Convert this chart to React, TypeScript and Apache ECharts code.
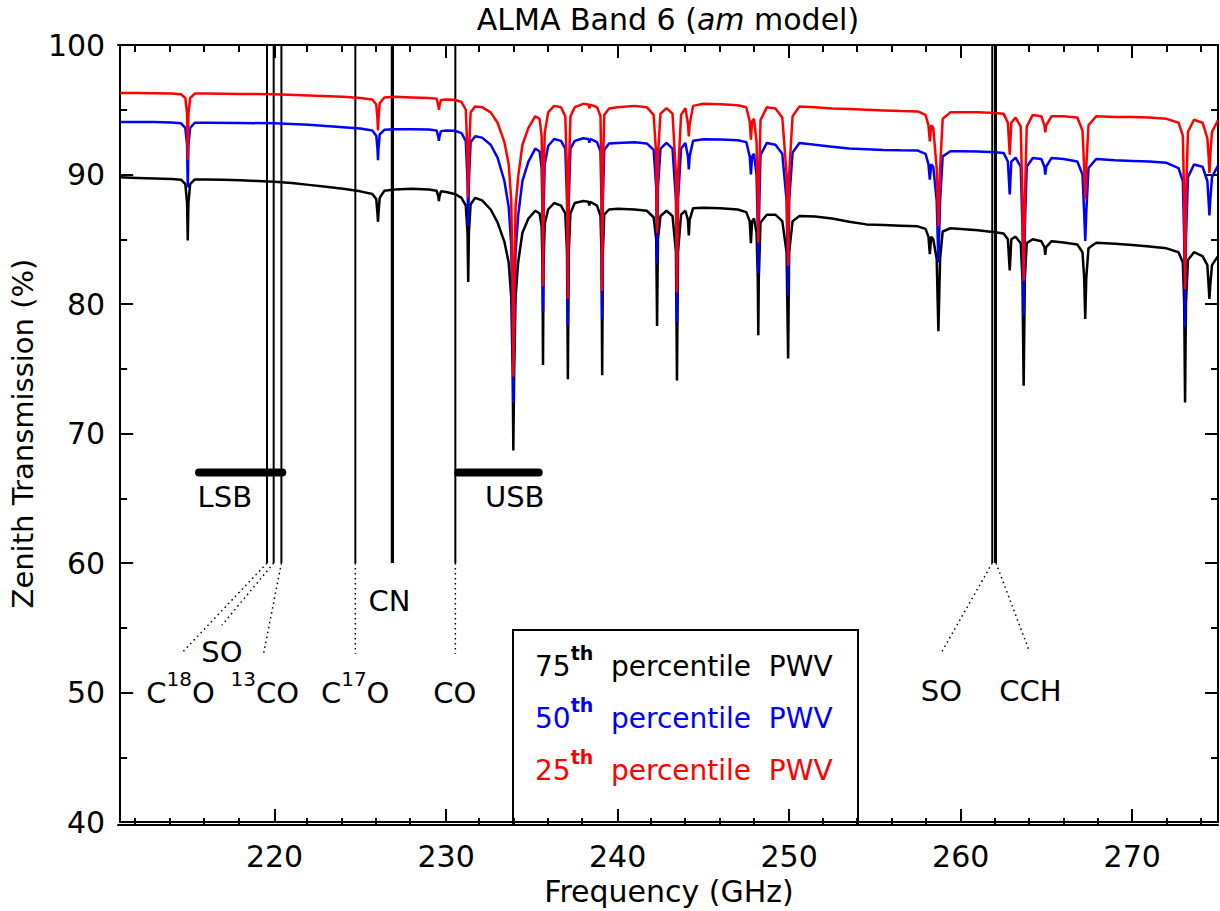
import React, { useEffect, useRef } from "react";
import * as echarts from "echarts";

const FONT = "'DejaVu Sans', sans-serif";

// Frequency (GHz), zenith transmission (%)
const black75: number[][] = [
  [211, 89.78], [212, 89.74], [213, 89.7], [214, 89.65], [214.55, 89.6], [214.8, 89.25], [214.9, 87.8], [214.94, 84.9], [214.98, 87.8], [215.08, 89.25], [215.35, 89.62],
  [216, 89.62], [217, 89.6], [218, 89.55], [219, 89.5], [220, 89.45], [221, 89.35], [222, 89.2], [223, 89.05], [224, 88.9], [225, 88.7], [225.7, 88.5],
  [225.93, 88.1], [226.0, 87.0], [226.03, 86.35], [226.06, 87.0], [226.13, 88.2], [226.4, 88.75], [227, 88.85], [228, 88.9], [229, 88.85], [229.45, 88.75],
  [229.55, 88.3], [229.58, 87.95], [229.61, 88.3], [229.7, 88.7], [230, 88.65], [230.5, 88.5], [230.9, 88.2], [231.15, 87.6], [231.25, 85.5], [231.29, 81.7],
  [231.33, 85.5], [231.43, 87.7], [231.7, 88.2], [232.1, 88.0], [232.6, 87.3], [233.0, 86.3], [233.4, 84.8], [233.65, 83.2], [233.8, 80.5], [233.88, 75],
  [233.92, 68.7], [233.97, 75], [234.05, 80.5], [234.2, 83.2], [234.45, 85.5], [234.8, 86.6], [235.2, 87.2], [235.45, 87.0], [235.57, 86.0], [235.62, 83],
  [235.65, 75.3], [235.68, 83], [235.75, 86.2], [235.95, 87.3], [236.3, 87.8], [236.7, 87.6], [236.95, 87.0], [237.05, 84], [237.1, 74.2], [237.15, 84],
  [237.25, 87.0], [237.5, 87.8], [238.0, 87.95], [238.3, 87.9], [238.35, 87.6], [238.4, 87.9], [238.8, 87.6], [239.0, 86.8], [239.06, 84], [239.1, 74.5],
  [239.14, 84], [239.22, 86.9], [239.5, 87.3], [240, 87.35], [241, 87.3], [241.7, 87.2], [242.1, 86.7], [242.25, 85], [242.3, 78.3], [242.35, 85],
  [242.5, 86.8], [242.85, 87.2], [243.2, 86.8], [243.4, 84], [243.46, 74.1], [243.52, 84], [243.7, 86.9], [243.95, 87.2], [244.1, 86.5], [244.15, 85.3],
  [244.2, 86.5], [244.4, 87.4], [245, 87.44], [246, 87.4], [247, 87.3], [247.5, 87.1], [247.7, 86.4], [247.77, 84.7], [247.84, 86.4], [247.95, 86.6],
  [248.1, 85.5], [248.17, 82], [248.2, 77.6], [248.23, 82], [248.33, 86.3], [248.7, 86.9], [249.2, 86.9], [249.6, 86.4], [249.85, 84], [249.94, 75.8],
  [250.0, 84], [250.2, 86.4], [250.6, 86.8], [251.5, 86.75], [252.5, 86.6], [253.5, 86.35], [254.5, 86.15], [255.5, 86.1], [256.5, 86.05], [257.5, 86.0],
  [257.95, 85.8], [258.12, 85.2], [258.2, 83.85], [258.28, 85.2], [258.4, 85.0], [258.6, 83.5], [258.7, 77.9], [258.8, 83.5], [258.95, 85.6], [259.4, 85.85],
  [260, 85.8], [261, 85.7], [262, 85.55], [262.5, 85.45], [262.75, 85.0], [262.86, 82.6], [262.95, 85.0], [263.2, 85.2], [263.5, 84.7], [263.6, 82],
  [263.67, 73.7], [263.74, 82], [263.85, 84.7], [264.2, 85.0], [264.7, 84.85], [264.88, 84.4], [264.93, 83.8], [264.98, 84.4], [265.3, 84.85], [266, 84.75],
  [266.8, 84.6], [267.1, 84.0], [267.2, 82], [267.26, 78.85], [267.32, 82], [267.45, 84.3], [267.9, 84.74], [269, 84.65], [270, 84.55], [271, 84.45],
  [272, 84.3], [272.7, 84.0], [272.95, 83.2], [273.03, 80], [273.08, 72.4], [273.13, 80], [273.25, 83.4], [273.6, 84.0], [274.1, 83.7], [274.38, 83.0],
  [274.45, 81.5], [274.5, 80.4], [274.55, 81.5], [274.65, 83.0], [275, 83.7],
];

const blue50: number[][] = [
  [211, 94.05], [212, 94.05], [213, 94.05], [214, 94.02], [214.55, 93.95], [214.8, 93.6], [214.9, 92.3], [214.94, 89.0], [214.98, 92.3], [215.08, 93.6], [215.35, 94.0],
  [216, 94.0], [218, 93.98], [220, 93.95], [222, 93.85], [224, 93.65], [225, 93.55], [225.7, 93.4], [225.93, 93.0], [226.0, 92.0], [226.03, 91.1],
  [226.06, 92.0], [226.13, 93.1], [226.4, 93.45], [227, 93.5], [228, 93.5], [229, 93.48], [229.45, 93.4], [229.55, 92.9], [229.58, 92.6], [229.61, 92.9],
  [229.7, 93.35], [230, 93.4], [230.5, 93.38], [230.9, 93.2], [231.15, 92.6], [231.25, 89.5], [231.29, 86.0], [231.33, 89.5], [231.43, 92.5], [231.7, 92.95],
  [232.1, 92.85], [232.6, 92.3], [233.0, 91.3], [233.4, 89.5], [233.65, 87.5], [233.8, 84.5], [233.88, 78], [233.92, 72.4], [233.97, 78], [234.05, 84],
  [234.2, 86.8], [234.45, 89.5], [234.8, 91.0], [235.2, 92.0], [235.45, 91.8], [235.57, 90.5], [235.62, 87], [235.65, 79.4], [235.68, 87], [235.75, 90.8],
  [235.95, 92.2], [236.3, 92.74], [236.7, 92.6], [236.95, 92.0], [237.05, 88], [237.1, 78.3], [237.15, 88], [237.25, 92.0], [237.5, 92.6], [238.0, 92.8],
  [238.3, 92.75], [238.35, 92.45], [238.4, 92.75], [238.8, 92.5], [239.0, 91.8], [239.06, 88], [239.1, 78.85], [239.14, 88], [239.22, 91.9], [239.5, 92.4],
  [240, 92.44], [241, 92.5], [241.7, 92.4], [242.1, 91.9], [242.25, 89], [242.3, 83.1], [242.35, 89], [242.5, 92.0], [242.85, 92.44], [243.2, 92.0],
  [243.4, 88], [243.46, 78.6], [243.52, 88], [243.7, 92.0], [243.95, 92.44], [244.1, 91.4], [244.15, 90.4], [244.2, 91.4], [244.4, 92.6], [245, 92.72],
  [246, 92.7], [247, 92.65], [247.5, 92.5], [247.7, 91.4], [247.77, 90.0], [247.84, 91.4], [247.95, 91.6], [248.1, 90], [248.17, 86], [248.2, 82.4],
  [248.23, 86], [248.33, 91.5], [248.7, 92.44], [249.2, 92.3], [249.6, 91.6], [249.85, 88], [249.94, 80.64], [250.0, 88], [250.2, 91.7], [250.6, 92.44],
  [251.5, 92.3], [252.5, 92.15], [253.5, 92.0], [254.5, 91.95], [255.5, 91.9], [256.5, 91.87], [257.5, 91.85], [257.95, 91.6], [258.12, 90.8], [258.2, 89.6],
  [258.28, 90.8], [258.4, 90.6], [258.6, 88], [258.7, 83.2], [258.8, 88], [258.95, 91.4], [259.4, 91.8], [260, 91.8], [261, 91.78], [262, 91.72],
  [262.5, 91.67], [262.75, 91.0], [262.86, 88.46], [262.95, 91.0], [263.2, 91.3], [263.5, 90.6], [263.6, 86], [263.67, 79.1], [263.74, 86], [263.85, 90.6],
  [264.2, 91.28], [264.7, 91.2], [264.88, 90.6], [264.93, 90.0], [264.98, 90.6], [265.3, 91.28], [266, 91.2], [266.8, 91.0], [267.1, 90.0], [267.2, 87],
  [267.26, 84.87], [267.32, 87], [267.45, 90.5], [267.9, 91.2], [269, 91.1], [270, 91.05], [271, 91.0], [272, 90.9], [272.7, 90.5], [272.95, 89.5],
  [273.03, 85], [273.08, 78.2], [273.13, 85], [273.25, 89.8], [273.6, 90.77], [274.1, 90.6], [274.38, 89.5], [274.45, 88], [274.5, 86.85], [274.55, 88],
  [274.65, 89.8], [275, 90.7],
];

const red25: number[][] = [
  [211, 96.3], [212, 96.3], [213, 96.28], [214, 96.25], [214.55, 96.2], [214.8, 95.9], [214.9, 94.7], [214.94, 91.15], [214.98, 94.7], [215.08, 95.9], [215.35, 96.25],
  [216, 96.25], [218, 96.22], [220, 96.2], [222, 96.1], [224, 96.0], [225, 95.9], [225.7, 95.8], [225.93, 95.4], [226.0, 94.3], [226.03, 93.4],
  [226.06, 94.3], [226.13, 95.5], [226.4, 95.95], [227, 96.0], [228, 95.95], [229, 95.9], [229.45, 95.85], [229.55, 95.3], [229.58, 95.0], [229.61, 95.3],
  [229.7, 95.75], [230, 95.8], [230.5, 95.77], [230.9, 95.6], [231.15, 95.0], [231.25, 91.5], [231.29, 88.2], [231.33, 91.5], [231.43, 94.8], [231.7, 95.26],
  [232.1, 95.2], [232.6, 94.8], [233.0, 94.0], [233.4, 92.5], [233.65, 90.8], [233.8, 88.0], [233.88, 81], [233.92, 74.4], [233.97, 81], [234.05, 87.5],
  [234.2, 89.8], [234.45, 92.3], [234.8, 93.6], [235.2, 94.5], [235.45, 94.3], [235.57, 93.0], [235.62, 89], [235.65, 81.4], [235.68, 89], [235.75, 93.2],
  [235.95, 94.8], [236.3, 95.3], [236.7, 95.2], [236.95, 94.5], [237.05, 90], [237.1, 80.4], [237.15, 90], [237.25, 94.5], [237.5, 95.2], [238.0, 95.46],
  [238.3, 95.4], [238.35, 95.1], [238.4, 95.4], [238.8, 95.2], [239.0, 94.5], [239.06, 90], [239.1, 81.0], [239.14, 90], [239.22, 94.6], [239.5, 95.1],
  [240, 95.2], [241, 95.3], [241.7, 95.2], [242.1, 94.6], [242.25, 91.5], [242.3, 85.5], [242.35, 91.5], [242.5, 94.7], [242.85, 95.13], [243.2, 94.7],
  [243.4, 90], [243.46, 80.9], [243.52, 90], [243.7, 94.6], [243.95, 95.13], [244.1, 93.9], [244.15, 92.95], [244.2, 93.9], [244.4, 95.3], [245, 95.46],
  [246, 95.42], [247, 95.35], [247.5, 95.2], [247.7, 94.1], [247.77, 92.7], [247.84, 94.1], [247.95, 94.3], [248.1, 92.5], [248.17, 88.5], [248.2, 84.74],
  [248.23, 88.5], [248.33, 94.2], [248.7, 95.2], [249.2, 95.1], [249.6, 94.4], [249.85, 90], [249.94, 82.95], [250.0, 90], [250.2, 94.5], [250.6, 95.26],
  [251.5, 95.2], [252.5, 95.1], [253.5, 95.05], [254.5, 95.0], [255.5, 94.95], [256.5, 94.9], [257.5, 94.87], [257.95, 94.6], [258.12, 93.8], [258.2, 92.56],
  [258.28, 93.8], [258.4, 93.6], [258.6, 90.5], [258.7, 86.0], [258.8, 90.5], [258.95, 94.3], [259.4, 94.8], [260, 94.8], [261, 94.8], [262, 94.75],
  [262.5, 94.7], [262.75, 94.0], [262.86, 91.54], [262.95, 94.0], [263.2, 94.4], [263.5, 93.7], [263.6, 88], [263.67, 81.8], [263.74, 88], [263.85, 93.7],
  [264.2, 94.6], [264.7, 94.5], [264.88, 93.8], [264.93, 93.25], [264.98, 93.8], [265.3, 94.5], [266, 94.5], [266.8, 94.4], [267.1, 93.4], [267.2, 90.5],
  [267.26, 88.1], [267.32, 90.5], [267.45, 93.8], [267.9, 94.5], [269, 94.45], [270, 94.44], [271, 94.4], [272, 94.3], [272.7, 94.0], [272.95, 93.0],
  [273.03, 88], [273.08, 81.15], [273.13, 88], [273.25, 93.3], [273.6, 94.23], [274.1, 94.0], [274.38, 92.8], [274.45, 91.5], [274.5, 90.13], [274.55, 91.5],
  [274.65, 93.3], [275, 94.18],
];

// axes
const xMajorTicks = [220, 230, 240, 250, 260, 270];
const xMinorTicks = [212, 214, 216, 218, 222, 224, 226, 228, 232, 234, 236, 238, 242, 244, 246, 248, 252, 254, 256, 258, 262, 264, 266, 268, 272, 274];

// spectral line markers (GHz)
const molFreqs = [219.56, 219.95, 220.40, 224.71, 226.87, 230.54, 261.84, 262.00, 262.06];
const molRange = [60, 100];
// leader lines: [from GHz, from %, to GHz, to %]
const leaderLines = [
  [219.56, 60, 214.55, 53.0],
  [219.95, 60, 216.93, 55.2],
  [220.40, 60, 219.36, 53.0],
  [224.71, 60, 224.71, 53.0],
  [230.54, 60, 230.54, 53.0],
  [261.84, 60, 258.88, 53.1],
  [262.06, 60, 264.0, 53.2],
];
// sidebands: [start GHz, end GHz, level %]
const bandBars = [
  [215.6, 220.45, 67],
  [230.7, 235.4, 67],
];
const labelTexts = [
  "{n|C}{s|18}{n|O}", "{n|SO}", "{s|13}{n|CO}", "{n|C}{s|17}{n|O}", "{n|CN}", "{n|CO}",
  "{n|LSB}", "{n|USB}", "{n|SO}", "{n|CCH}",
];
const labelPos = [
  [214.52, 50], [216.93, 53.1], [219.43, 50], [224.7, 50], [226.7, 57.1], [230.5, 50],
  [217.1, 65.1], [234.0, 65.1], [258.88, 50.1], [264.06, 50.1],
];
const legendNums = ["75", "50", "25"];
const legendColors = ["#000000", "#0000ff", "#ff0000"];

export default function App() {
  const ref = useRef<HTMLDivElement>(null);
  useEffect(() => {
    if (!ref.current) return;
    const chart = echarts.init(ref.current, undefined, { renderer: "svg" });

    const curve = (name: string, data: number[][], color: string, z: number) => ({
      name, type: "line", data, showSymbol: false, symbol: "none", z,
      lineStyle: { color, width: 2.5 }, itemStyle: { color },
      xAxisIndex: 0, yAxisIndex: 0, silent: true,
    });

    const series: any[] = [];
    molFreqs.forEach((f) => {
      series.push({
        type: "line", symbol: "none", z: 1, silent: true,
        data: [[f, molRange[1]], [f, molRange[0]]],
        lineStyle: { color: "#000", width: f === 226.87 ? 3.2 : 2 },
      });
    });
    leaderLines.forEach((l) => {
      series.push({
        type: "line", symbol: "none", z: 1, silent: true,
        data: [[l[0], l[1]], [l[2], l[3]]],
        lineStyle: { color: "#000", width: 1.5, type: [1.5, 3.5] },
      });
    });
    bandBars.forEach((b) => {
      series.push({
        type: "line", symbol: "none", z: 1, silent: true,
        data: [[b[0], b[2]], [b[1], b[2]]],
        lineStyle: { color: "#000", width: 8, cap: "round" },
      });
    });
    series.push(curve("75th", black75, "#000000", 2));
    series.push(curve("50th", blue50, "#0000ff", 3));
    series.push(curve("25th", red25, "#ff0000", 4));
    series.push({
      type: "scatter", symbolSize: 1, silent: true, z: 5,
      itemStyle: { color: "rgba(0,0,0,0)", opacity: 1 },
      data: labelPos,
      label: {
        show: true, position: "inside", color: "#000", opacity: 1,
        textBorderWidth: 0,
        formatter: (p: any) => labelTexts[p.dataIndex],
        rich: {
          n: { fontSize: 29, fontFamily: FONT, color: "#000", lineHeight: 48, textBorderWidth: 0 },
          s: { fontSize: 20, fontFamily: FONT, color: "#000", lineHeight: 22, verticalAlign: "top", textBorderWidth: 0 },
        },
      },
    });

    const tickLine = { color: "#000", width: 2 };
    const baseX = {
      type: "value", min: 211, max: 275, splitLine: { show: false },
      axisLine: { show: true, lineStyle: tickLine },
    };
    const baseY = {
      type: "value", min: 40, max: 100, interval: 10, splitLine: { show: false },
      axisLine: { show: true, lineStyle: tickLine },
      axisTick: { show: true, inside: true, length: 13, lineStyle: tickLine },
      minorTick: { show: true, splitNumber: 2, length: 7, lineStyle: tickLine },
    };

    chart.setOption({
      animation: false,
      backgroundColor: "#ffffff",
      grid: [
        { left: 118, right: 2, top: 45, bottom: 86 },
        { left: 118, right: 2, top: 45, bottom: 86 },
      ],
      xAxis: [
        {
          ...baseX, gridIndex: 0, position: "bottom",
          axisTick: { show: true, inside: true, length: 13, lineStyle: tickLine, customValues: xMajorTicks },
          axisLabel: { show: true, customValues: xMajorTicks, fontSize: 30, fontFamily: FONT, color: "#000", margin: 19 },
          name: "Frequency (GHz)", nameLocation: "middle", nameGap: 50,
          nameTextStyle: { fontSize: 30, fontFamily: FONT, color: "#000" },
        },
        {
          ...baseX, gridIndex: 0, position: "top",
          axisTick: { show: true, inside: true, length: 13, lineStyle: tickLine, customValues: xMajorTicks },
          axisLabel: { show: false },
        },
        {
          ...baseX, gridIndex: 1, position: "bottom",
          axisTick: { show: true, inside: true, length: 7, lineStyle: tickLine, customValues: xMinorTicks },
          axisLabel: { show: false },
        },
        {
          ...baseX, gridIndex: 1, position: "top",
          axisTick: { show: true, inside: true, length: 7, lineStyle: tickLine, customValues: xMinorTicks },
          axisLabel: { show: false },
        },
      ],
      yAxis: [
        {
          ...baseY, gridIndex: 0, position: "left",
          axisLabel: { show: true, fontSize: 30, fontFamily: FONT, color: "#000", margin: 15 },
          name: "Zenith Transmission (%)", nameLocation: "middle", nameGap: 80, nameRotate: 90,
          nameTextStyle: { fontSize: 29, fontFamily: FONT, color: "#000" },
        },
        { ...baseY, gridIndex: 0, position: "right", axisLabel: { show: false } },
        { type: "value", gridIndex: 1, min: 40, max: 100, show: false },
      ],
      graphic: [
        {
          type: "text", x: 668, y: 19, z: 10,
          style: {
            text: "{a|ALMA Band 6 (}{i|am}{a| model)}",
            align: "center", verticalAlign: "middle", fill: "#000",
            rich: {
              a: { fontSize: 30, fontFamily: FONT, fill: "#000" },
              i: { fontSize: 30, fontFamily: FONT, fontStyle: "italic", fill: "#000" },
            },
          },
        },
        {
          type: "rect", z: 0,
          shape: { x: 513, y: 630, width: 345, height: 195 },
          style: { fill: "none", stroke: "#000", lineWidth: 2 },
        },
        ...legendNums.map((num, i) => ({
          type: "text", x: 535, y: 666 + i * 52, z: 10,
          style: {
            text: `{n|${num}}{s|th}{n|\u00a0\u00a0percentile\u00a0\u00a0PWV}`,
            align: "left", verticalAlign: "middle", fill: legendColors[i],
            rich: {
              n: { fontSize: 28, fontFamily: FONT, fill: legendColors[i], lineHeight: 46 },
              s: { fontSize: 19, fontFamily: FONT, fontWeight: "bold", fill: legendColors[i], lineHeight: 22, verticalAlign: "top" },
            },
          },
        })),
      ],
      series,
    });
    return () => chart.dispose();
  }, []);
  return (
    <div
      ref={ref}
      style={{ position: "absolute", left: 0, top: 0, width: 1220, height: 911, background: "#fff" }}
    />
  );
}
